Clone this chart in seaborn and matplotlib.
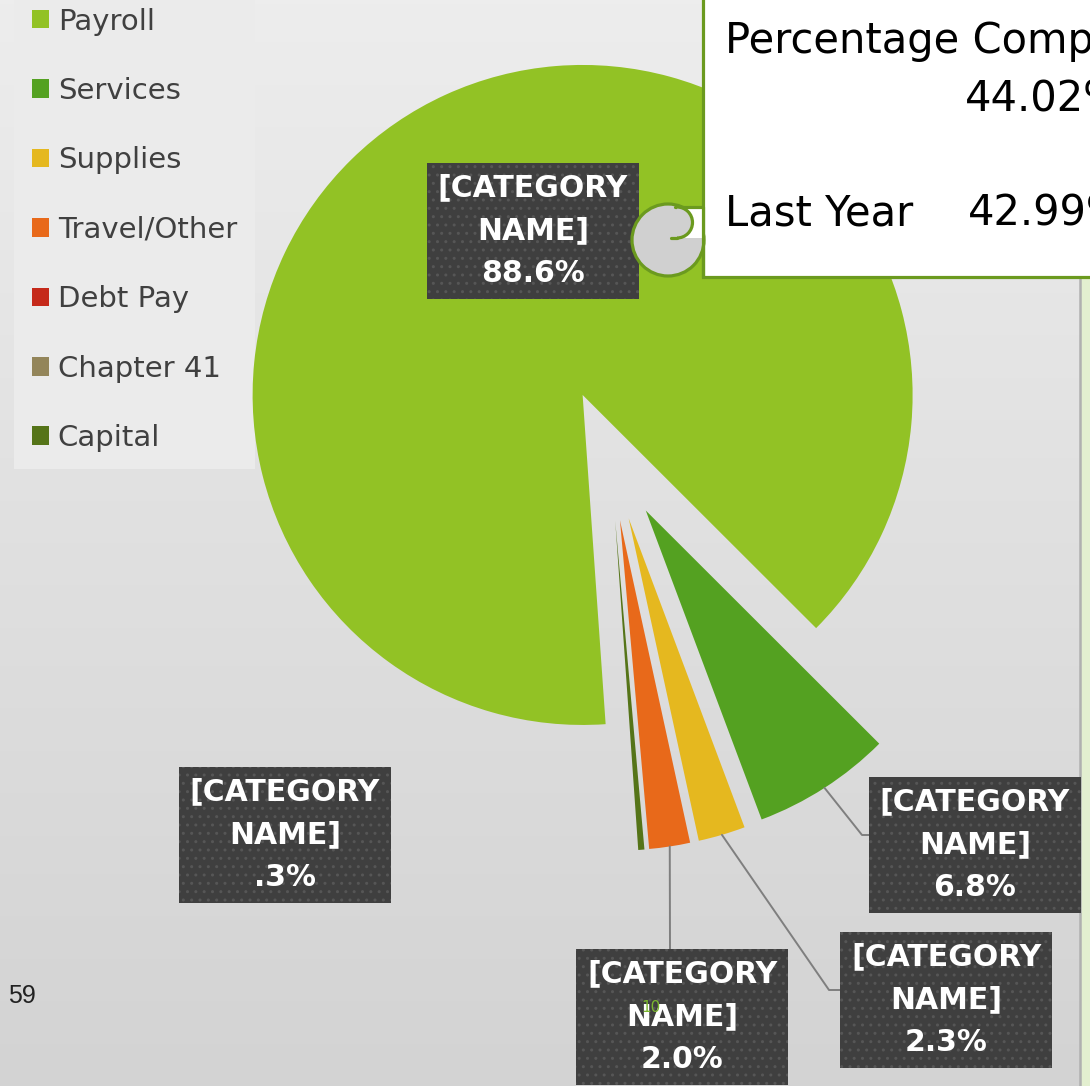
import numpy as np
import matplotlib
matplotlib.use("Agg")
import matplotlib.pyplot as plt
import matplotlib.patches as mpatches
import seaborn as sns

# Data
categories = ["Payroll", "Services", "Supplies", "Travel/Other", "Debt Pay", "Chapter 41", "Capital"]
shares = [88.6, 6.8, 2.3, 2.0, 0.0, 0.0, 0.3]
share_labels = ["88.6%", "6.8%", "2.3%", "2.0%", "", "", ".3%"]
colors = ["#92c225", "#54a121", "#e5b81f", "#e8691a", "#c5291a", "#93855a", "#557418"]
pct_compared = "44.02%"
pct_last_year = "42.99%"

sns.set_theme(style="white")
plt.rcParams['font.family'] = ['DejaVu Sans']

W, H = 1090, 1086
fig = plt.figure(figsize=(W / 100, H / 100), dpi=100)
ax = fig.add_axes([0, 0, 1, 1])


def py(y):
    # pixel row (from top) -> data y
    return H - y


# background gradient
grad = np.linspace(0, 1, 256).reshape(-1, 1)
bg = sns.blend_palette(["#ededed", "#d3d3d3"], as_cmap=True)
ax.imshow(grad, cmap=bg, extent=(0, W, 0, H), aspect="auto", origin="upper", zorder=0)

# pie
wedges, _ = ax.pie(shares, colors=colors, startangle=-86, counterclock=False,
                   radius=330, center=(610, py(455)), explode=[66] * len(shares),
                   frame=True, wedgeprops=dict(linewidth=0, zorder=2))
ax.set_xlim(0, W)
ax.set_ylim(0, H)
ax.set_axis_off()

# data labels
box = dict(boxstyle="square,pad=0.36", facecolor="#3f3f3f", edgecolor="#565656",
           hatch="..", linewidth=0)
label_pos = {0: (533, 231), 1: (975, 845), 2: (946, 1000), 3: (682, 1017), 6: (285, 835)}
elbows = {1: [(862, 835), (871, 835)], 2: [(829, 990), (840, 990)], 3: [(670, 949)]}

for i, (x, y) in label_pos.items():
    ax.text(x, py(y), "[CATEGORY\nNAME]\n" + share_labels[i], ha="center", va="center",
            color="white", fontsize=21.5, fontweight="bold", linespacing=1.6,
            bbox=box, zorder=6)
    if i in elbows:
        w = wedges[i]
        mid = np.deg2rad((w.theta1 + w.theta2) / 2)
        sx = w.center[0] + w.r * np.cos(mid)
        sy = w.center[1] + w.r * np.sin(mid)
        pts = [(sx, sy)] + [(ex, py(ey)) for ex, ey in elbows[i]]
        ax.plot([p[0] for p in pts], [p[1] for p in pts], color="#7f7f7f", lw=1.4, zorder=5)

# legend
leg = ax.legend(wedges, categories, loc="upper left", bbox_to_anchor=(14, py(-10)),
                bbox_transform=ax.transData, fontsize=21, frameon=True, fancybox=False,
                facecolor="#ebebeb", edgecolor="none", framealpha=1,
                handlelength=0.6, handleheight=0.6, handletextpad=0.3,
                labelspacing=1.42, borderpad=0.6, borderaxespad=0)
for t in leg.get_texts():
    t.set_color("#404040")
leg.set_zorder(1.5)

# scroll callout
green = "#6b9a1f"
ax.add_patch(mpatches.Rectangle((703, py(277)), 420, 320, facecolor="white",
                                edgecolor=green, lw=2.3, zorder=7))
ax.add_patch(mpatches.Circle((668, py(240)), 36, facecolor="#d0d0d0",
                             edgecolor=green, lw=2.3, zorder=8))
ax.add_patch(mpatches.Rectangle((677, py(238)), 26, 31, facecolor="white",
                                edgecolor="none", zorder=9))
ax.plot([675, 703], [py(207), py(207)], color=green, lw=2.3, zorder=10)
ax.plot([703, 703], [py(207), py(277)], color=green, lw=2.3, zorder=10)
ax.add_patch(mpatches.Wedge((677, py(222.5)), 15.5, -90, 90, facecolor="#d0d0d0",
                            edgecolor="none", zorder=10))
ax.add_patch(mpatches.Arc((677, py(222.5)), 31, 31, theta1=-90, theta2=90,
                          color=green, lw=2.3, zorder=11))
ax.plot([671, 677], [py(238), py(238)], color=green, lw=2.3, zorder=11)

ax.text(725, py(53), "Percentage Comp", fontsize=30, color="black", va="baseline", zorder=12)
ax.text(965, py(112), pct_compared, fontsize=30, color="black", va="baseline", zorder=12)
ax.text(725, py(225), "Last Year", fontsize=30, color="black", va="baseline", zorder=12)
ax.text(968, py(225), pct_last_year, fontsize=30, color="black", va="baseline", zorder=12)

# right edge strip
ax.add_patch(mpatches.Rectangle((1081, 0), 20, py(277), facecolor="#e3efd0",
                                edgecolor="none", zorder=3))
ax.plot([1080, 1080], [0, py(277)], color="#b0b0b0", lw=1.8, zorder=3)

# slide numbers
ax.text(8, py(1003), "59", fontsize=18, color="#222222", va="baseline",
        family=["Liberation Sans", "DejaVu Sans"], zorder=12)
ax.text(651, py(1008), "10", fontsize=11, color="#7cb82f", ha="center", va="center", zorder=12)

fig.savefig("out.png", dpi=100)
